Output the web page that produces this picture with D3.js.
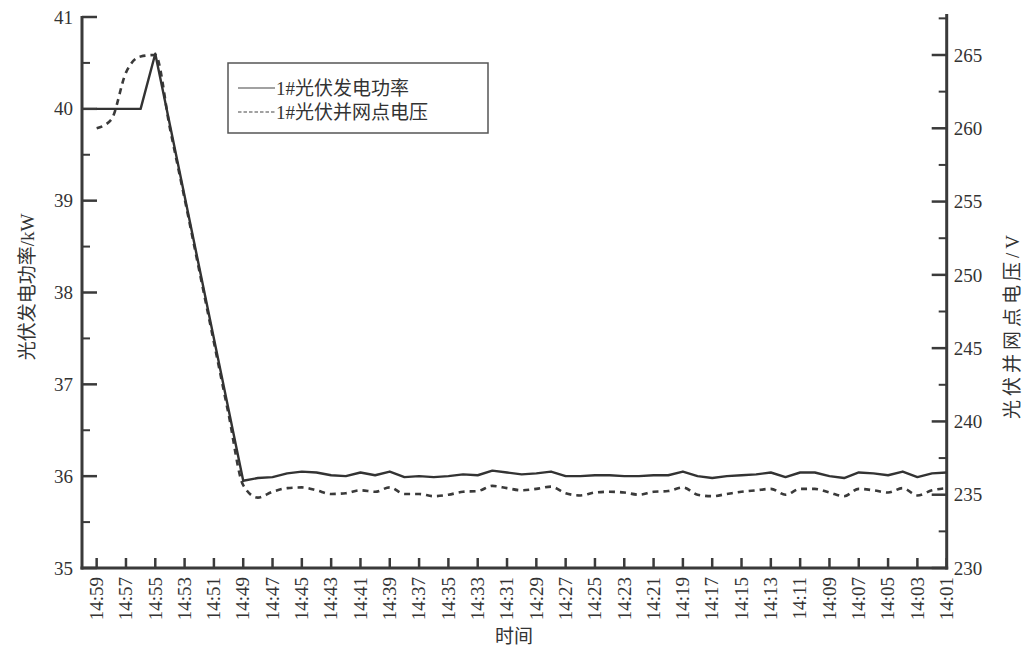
<!DOCTYPE html>
<html><head><meta charset="utf-8">
<script src="https://cdn.jsdelivr.net/npm/d3@7"></script>
<style>
body{margin:0;background:#fff;}
</style></head>
<body><svg id="c" width="1026" height="648" font-family="'Liberation Serif', 'Times New Roman', 'Noto Sans CJK SC', serif"></svg>
<script>
// minutes past 14:00, from 14:59 down to 14:01
const minutes = d3.range(59, 0, -1);
const power = [40.0,40.0,40.0,40.0,40.6,39.825,39.05,38.275,37.5,36.725,
 35.95,35.98,35.99,36.03,36.05,36.04,36.01,36.0,36.04,36.01,
 36.05,35.99,36.0,35.99,36.0,36.02,36.01,36.06,36.04,36.02,
 36.03,36.05,36.0,36.0,36.01,36.01,36.0,36.0,36.01,36.01,
 36.05,36.0,35.98,36.0,36.01,36.02,36.04,35.99,36.04,36.04,
 36.0,35.98,36.04,36.03,36.01,36.05,35.99,36.03,36.04];
const voltage = [260.0,260.6,263.8,264.9,265.0,260.0,255.2,250.3,245.4,240.5,
 235.65,234.8,235.2,235.45,235.5,235.3,235.05,235.1,235.3,235.2,
 235.5,235.05,235.05,234.9,235.0,235.2,235.25,235.6,235.45,235.3,
 235.4,235.55,235.1,234.95,235.15,235.2,235.15,235.0,235.2,235.25,
 235.5,235.0,234.9,235.05,235.2,235.3,235.4,235.0,235.4,235.4,
 235.15,234.9,235.4,235.3,235.15,235.45,234.95,235.3,235.45];
const tickMinutes = d3.range(59, 0, -2);
const leftTicks = [35,36,37,38,39,40,41];
const rightTicks = [230,235,240,245,250,255,260,265];
const seriesNames = ["1#光伏发电功率","1#光伏并网点电压"];
const xTitle = "时间", yLeftTitle = "光伏发电功率/kW", yRightTitle = "光伏并网点电压/V";

const svg = d3.select("#c");
const L = 82, R = 946.7, T = 17, B = 568;
const x = d3.scaleLinear().domain([60, 1]).range([L, R]);
const yL = d3.scaleLinear().domain([35, 41]).range([B, T]);
const yR = d3.scaleLinear().domain([230, 230 + (B - T) / ((B - 55) / 35)]).range([B, T]);
const fmt = m => "14:" + String(m).padStart(2, "0");
const axisCol = "#3a3a3a", txtCol = "#333";

// left axis
const gl = svg.append("g").attr("transform", `translate(${L},0)`);
gl.append("line").attr("y1", B + 1.5).attr("y2", T - 1).attr("stroke", axisCol).attr("stroke-width", 3);
gl.selectAll(".maj").data(leftTicks).join("line").attr("x1", 0).attr("x2", 15)
  .attr("y1", d => yL(d)).attr("y2", d => yL(d)).attr("stroke", axisCol).attr("stroke-width", 2.5);
gl.selectAll(".min").data(d3.range(35.5, 41, 1)).join("line").attr("class","min").attr("x1", 0).attr("x2", 8)
  .attr("y1", d => yL(d)).attr("y2", d => yL(d)).attr("stroke", axisCol).attr("stroke-width", 2);
gl.selectAll("text").data(leftTicks).join("text").attr("x", -9).attr("y", d => yL(d)).attr("dy", "0.35em")
  .attr("text-anchor", "end").attr("font-size", 19).attr("fill", txtCol).text(d => d);

// right axis
const gr = svg.append("g").attr("transform", `translate(${R},0)`);
gr.append("line").attr("y1", B + 1.5).attr("y2", T - 3).attr("stroke", axisCol).attr("stroke-width", 3);
gr.selectAll(".maj").data(rightTicks).join("line").attr("x1", 0).attr("x2", -15)
  .attr("y1", d => yR(d)).attr("y2", d => yR(d)).attr("stroke", axisCol).attr("stroke-width", 2.5);
gr.selectAll(".min").data(d3.range(232.5, 268, 5)).join("line").attr("class","min").attr("x1", 0).attr("x2", -8)
  .attr("y1", d => yR(d)).attr("y2", d => yR(d)).attr("stroke", axisCol).attr("stroke-width", 2);
gr.selectAll("text").data(rightTicks).join("text").attr("x", 7).attr("y", d => yR(d)).attr("dy", "0.35em")
  .attr("text-anchor", "start").attr("font-size", 19).attr("fill", txtCol).text(d => d);

// bottom axis
const gb = svg.append("g").attr("transform", `translate(0,${B})`);
gb.append("line").attr("x1", L - 1.5).attr("x2", R + 1.5).attr("stroke", axisCol).attr("stroke-width", 3);
gb.selectAll(".tk").data(tickMinutes).join("line").attr("x1", d => x(d)).attr("x2", d => x(d))
  .attr("y1", 0).attr("y2", -10).attr("stroke", axisCol).attr("stroke-width", 2.5);
gb.selectAll("text").data(tickMinutes).join("text")
  .attr("transform", d => `translate(${x(d)},9) rotate(-90)`).attr("dy", "0.33em")
  .attr("text-anchor", "end").attr("font-size", 19).attr("fill", txtCol).text(fmt);

// lines
const lp = d3.line().x((d, i) => x(minutes[i])).y(d => yL(d));
const lv = d3.line().x((d, i) => x(minutes[i])).y(d => yR(d)).curve(d3.curveMonotoneX);
svg.append("path").attr("d", lv(voltage)).attr("fill", "none").attr("stroke", "#3a3a3a")
  .attr("stroke-width", 2.6).attr("stroke-dasharray", "6,5");
svg.append("path").attr("d", lp(power)).attr("fill", "none").attr("stroke", "#333")
  .attr("stroke-width", 2.4).attr("stroke-linejoin", "round");

// legend
const lg = svg.append("g");
lg.append("rect").attr("x", 228).attr("y", 63).attr("width", 260).attr("height", 70)
  .attr("fill", "#fff").attr("stroke", "#555").attr("stroke-width", 1.5);
lg.append("line").attr("x1", 238).attr("x2", 275).attr("y1", 88).attr("y2", 88).attr("stroke", "#444").attr("stroke-width", 1.2);
lg.append("line").attr("x1", 238).attr("x2", 276).attr("y1", 112).attr("y2", 112).attr("stroke", "#444")
  .attr("stroke-width", 1.2).attr("stroke-dasharray", "3.5,2");
lg.append("text").attr("x", 276).attr("y", 95).attr("font-size", 19).attr("fill", txtCol).text(seriesNames[0]);
lg.append("text").attr("x", 276).attr("y", 119).attr("font-size", 19).attr("fill", txtCol).text(seriesNames[1]);

// titles
svg.append("text").attr("x", 514).attr("y", 643).attr("text-anchor", "middle").attr("font-size", 19).attr("fill", txtCol).text(xTitle);
svg.append("text").attr("transform", "translate(34,287) rotate(-90)").attr("text-anchor", "middle")
  .attr("font-size", 19).attr("fill", txtCol).text(yLeftTitle);
svg.append("text").attr("transform", "translate(1019,325) rotate(-90)").attr("text-anchor", "middle")
  .attr("font-size", 19).attr("letter-spacing", 4).attr("fill", txtCol).text(yRightTitle);
</script></body></html>
